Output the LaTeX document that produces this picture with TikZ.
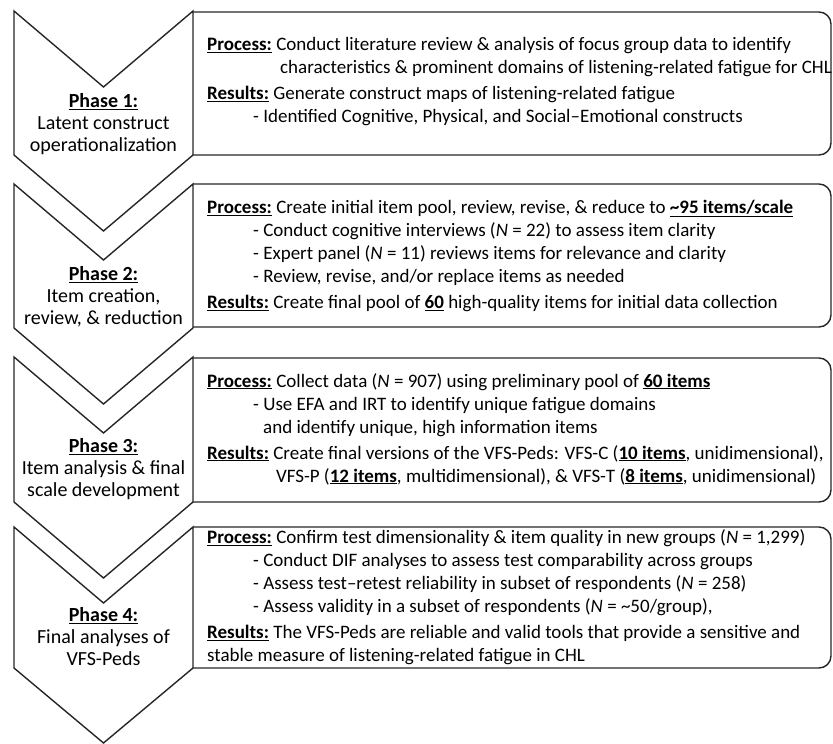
\documentclass[tikz,border=0pt]{standalone}
\usepackage{fontspec}
\setmainfont{Carlito}
\newcommand\bul[1]{\underline{\textbf{#1}}}
\newcommand\ind[1]{\hspace*{#1pt}}
\begin{document}
\begin{tikzpicture}[x=1pt,y=-1pt,
  chev/.style={draw=black!85,line width=1.4pt,line join=miter},
  panel/.style={draw=black!85,line width=1.4pt,rounded corners=12pt},
  boxtext/.style={anchor=west,inner sep=0pt,align=left,font=\fontsize{19}{23}\selectfont},
  phasetext/.style={inner sep=0pt,align=center,font=\fontsize{20}{22}\selectfont}]
\useasboundingbox (0,0) rectangle (833,744);
% chevrons
\draw[chev] (14,11) -- (103.5,87) -- (193,11) -- (193,155) -- (103.5,231) -- (14,155) -- cycle;
\draw[chev] (14,184) -- (103.5,260) -- (193,184) -- (193,328) -- (103.5,404) -- (14,328) -- cycle;
\draw[chev] (14,357) -- (103.5,433) -- (193,357) -- (193,502) -- (103.5,578) -- (14,502) -- cycle;
\draw[chev] (14,527) -- (103.5,603) -- (193,527) -- (193,668) -- (103.5,743) -- (14,668) -- cycle;
% panels
\draw[panel] (193,12) -- (831,12) -- (831,155) -- (193,155);
\draw[panel] (193,184) -- (831,184) -- (831,327) -- (193,327);
\draw[panel] (193,358) -- (831,358) -- (831,502) -- (193,502);
\draw[panel] (193,527) -- (831,527) -- (831,668) -- (193,668);
% phase labels
\node[phasetext] (p1) at (103.5,124) {\bul{Phase 1:}\\Latent construct\\operationalization};
\node[phasetext] (p2) at (103.5,297) {\bul{Phase 2:}\\Item creation,\\review, \& reduction};
\node[phasetext] (p3) at (103.5,469) {\bul{Phase 3:}\\Item analysis \& final\\scale development};
\node[phasetext] (p4) at (103.5,637) {\bul{Phase 4:}\\Final analyses of\\VFS-Peds};
% panel texts
\node[boxtext] (t1) at (207,82) {\bul{Process:} Conduct literature review \& analysis of focus group data to identify\\
\ind{73}characteristics \& prominent domains of listening-related fatigue for CHL\\[3pt]
\bul{Results:} Generate construct maps of listening-related fatigue\\
\ind{46}- Identified Cognitive, Physical, and Social–Emotional constructs};
\node[boxtext] (t2) at (207,256) {\bul{Process:} Create initial item pool, review, revise, \& reduce to \bul{\textasciitilde95 items/scale}\\
\ind{46}- Conduct cognitive interviews (\textit{N} = 22) to assess item clarity\\
\ind{46}- Expert panel (\textit{N} = 11) reviews items for relevance and clarity\\
\ind{46}- Review, revise, and/or replace items as needed\\[3pt]
\bul{Results:} Create final pool of \bul{60} high-quality items for initial data collection};
\node[boxtext] (t3) at (207,429) {\bul{Process:} Collect data (\textit{N} = 907) using preliminary pool of \bul{60 items}\\
\ind{46}- Use EFA and IRT to identify unique fatigue domains\\
\ind{56}and identify unique, high information items\\[3pt]
\bul{Results:} Create final versions of the VFS-Peds: VFS-C (\bul{10 items}, unidimensional),\\
\ind{69}VFS-P (\bul{12 items}, multidimensional), \& VFS-T (\bul{8 items}, unidimensional)};
\node[boxtext] (t4) at (207,597) {\bul{Process:} Confirm test dimensionality \& item quality in new groups (\textit{N} = 1,299)\\
\ind{46}- Conduct DIF analyses to assess test comparability across groups\\
\ind{46}- Assess test–retest reliability in subset of respondents (\textit{N} = 258)\\
\ind{46}- Assess validity in a subset of respondents (\textit{N} = \textasciitilde50/group),\\[3pt]
\bul{Results:} The VFS-Peds are reliable and valid tools that provide a sensitive and\\
stable measure of listening-related fatigue in CHL};
\end{tikzpicture}
\end{document}
